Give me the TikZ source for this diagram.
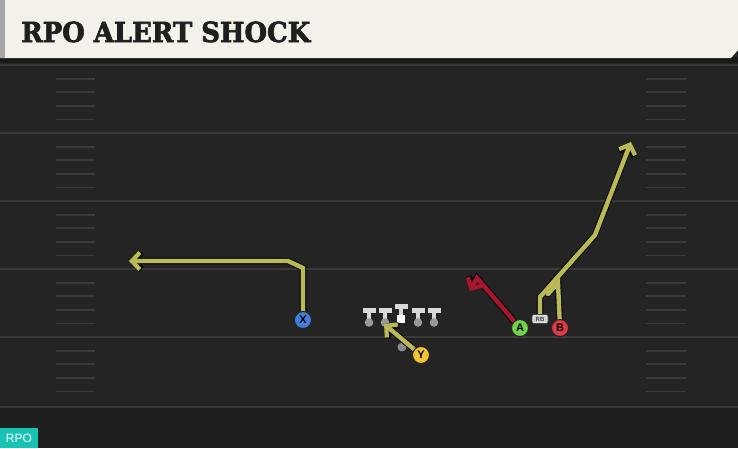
\documentclass[tikz,border=0pt]{standalone}
\usepackage{fontspec}
\usepackage{graphicx}
\setmainfont{Liberation Sans}
\newfontfamily\titlefont[FakeBold=2.5]{DejaVu Serif}
\usetikzlibrary{arrows.meta}
\definecolor{fieldbg}{HTML}{242424}
\definecolor{fieldline}{HTML}{3A3A3A}
\definecolor{hdrbg}{HTML}{F4F1EA}
\definecolor{routeyel}{HTML}{B9B955}
\definecolor{routered}{HTML}{A8152F}
\definecolor{pblue}{HTML}{3F7FDC}
\definecolor{pyellow}{HTML}{F2C232}
\definecolor{pgreen}{HTML}{6FD24A}
\definecolor{pred}{HTML}{E23A45}
\definecolor{teal}{HTML}{19C3B3}
\definecolor{olgrey}{HTML}{D8D8D8}
\tikzset{
  player/.style={circle, draw=black!85, line width=1pt, minimum size=17pt, inner sep=0pt, text=black, font=\bfseries\fontsize{11}{11}\selectfont},
  routeout/.style={draw=black!95, line width=6.6pt, line join=miter, line cap=round},
  routein/.style={line width=4.4pt, line join=miter, line cap=round},
  tipout/.style={-{Straight Barb[length=8pt,width=17pt,line width=6.6pt]}},
  tipin/.style={-{Straight Barb[length=8pt,width=17pt,line width=4.2pt]}},
  hashmark/.style={draw=fieldline, line width=1.8pt},
  yardline/.style={draw=fieldline, line width=2pt},
}
\begin{document}
\begin{tikzpicture}[x=1pt,y=-1pt]
\useasboundingbox (0,0) rectangle (738,448);
% field
\fill[fieldbg] (0,0) rectangle (738,448);
\fill[black!15!fieldbg] (0,407) rectangle (738,448);
% yard lines
\foreach \yy in {65,133,201,269,337,407}{
  \draw[yardline] (0,\yy) -- (738,\yy);
}
% hash marks
\foreach \yy in {65,133,201,269,337}{
  \foreach \k in {1,2,3,4}{
    \draw[hashmark] (56,\yy+13.6*\k) -- (95,\yy+13.6*\k);
    \draw[hashmark] (646,\yy+13.6*\k) -- (686,\yy+13.6*\k);
  }
}
% header
\fill[black!90] (0,57) rectangle (738,63);
\fill[hdrbg] (0,0) -- (738,0) -- (738,50) -- (731,58) -- (0,58) -- cycle;
\fill[black!35] (0,0) rectangle (5,58);
\node[anchor=base west, inner sep=0pt, text=black!88] (title) at (21,42)
  {\resizebox{289pt}{20.5pt}{\titlefont\bfseries RPO ALERT SHOCK}};
% RPO label
\fill[teal] (0,428) rectangle (38,448);
\node[text=white, font=\fontsize{12}{12}\selectfont, inner sep=0pt] (rpo) at (19,438.5) {RPO};
% offensive line
\foreach \xx in {369,385,418,434}{
  \fill[olgrey] (\xx-6.5,308) rectangle (\xx+6.5,312.5);
  \fill[olgrey] (\xx-1.7,312) rectangle (\xx+1.7,320);
  \fill[black!40] (\xx,322.5) circle (4.3);
}
\fill[olgrey] (401-6.5,304) rectangle (401+6.5,308.5);
\fill[olgrey] (401-1.7,308) rectangle (401+1.7,315);
\fill[white] (397,315) rectangle (405,323);
\fill[black!45] (402,347) circle (4.5);
% route coordinates
\coordinate (x1) at (303,268);
\coordinate (x2) at (288,261);
\coordinate (x3) at (129,261);
\coordinate (y1) at (384,324);
\coordinate (a1) at (477,278);
\coordinate (a2) at (470,291);
\coordinate (r1) at (540,297);
\coordinate (r2) at (595,235);
\coordinate (r3) at (631,142);
\coordinate (b1) at (558,283);
\coordinate (b2) at (548,294);
\path (303,320) coordinate (Xc) (421,355) coordinate (Yc) (520,328) coordinate (Ac) (560,328) coordinate (Bc) (540,319) coordinate (RBc);
% routes outlines
\draw[routeout, tipout] (Xc) -- (x1) -- (x2) -- (x3);
\draw[routeout, tipout] (Yc) -- (y1);
\draw[routeout, tipout] (Ac) -- (a1) -- (a2);
\draw[routeout, tipout] (RBc) -- (r1) -- (r2) -- (r3);
\draw[routeout] (Bc) -- (b1) -- (b2);
% routes fill
\draw[routein, tipin, routeyel] (Xc) -- (x1) -- (x2) -- (x3);
\draw[routein, tipin, routeyel] (Yc) -- (y1);
\draw[routein, tipin, routered] (Ac) -- (a1) -- (a2);
\draw[routein, tipin, routeyel] (RBc) -- (r1) -- (r2) -- (r3);
\draw[routein, routeyel] (Bc) -- (b1) -- (b2);
% players
\node[player, fill=pblue] (X) at (Xc) {X};
\node[player, fill=pyellow] (Y) at (Yc) {Y};
\node[player, fill=pgreen] (A) at (Ac) {A};
\node[player, fill=pred] (B) at (Bc) {B};
\node[fill=olgrey, draw=black!70, line width=0.6pt, rounded corners=2pt, minimum width=16pt, minimum height=9pt, inner sep=0pt, text=black!75, font=\bfseries\fontsize{6}{6}\selectfont] (RB) at (RBc) {RB};
\end{tikzpicture}
\end{document}
